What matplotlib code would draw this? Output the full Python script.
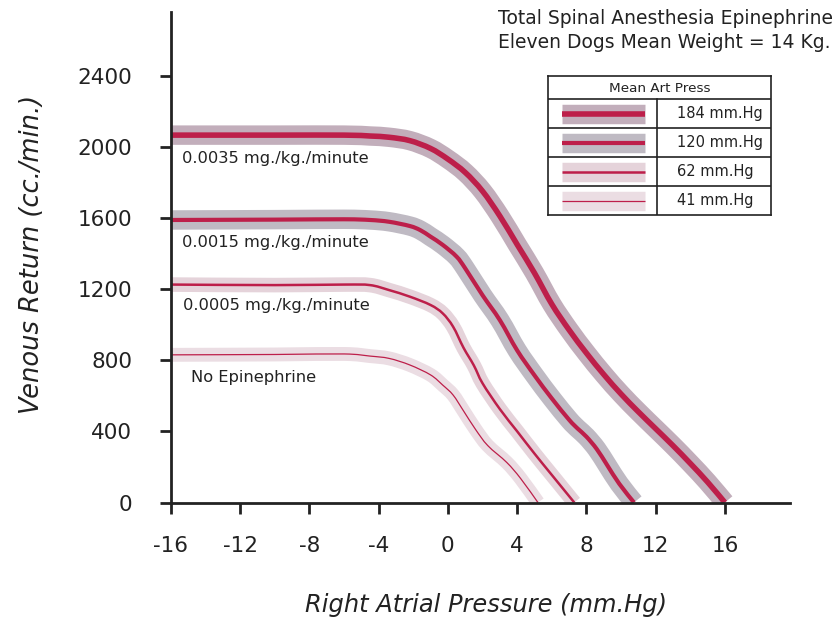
import numpy as np
import matplotlib.pyplot as plt
from matplotlib.path import Path
from matplotlib.patches import PathPatch

plt.rcParams["axes.unicode_minus"] = False

# venous return curves, one per epinephrine dose (right atrial pressure, cc./min.)
x_184 = [-16, -10, -6, -4.5, -3.4, -2.2, -1, 0, 1, 2, 3, 4, 5, 6, 7, 8, 9, 10, 11, 12, 13, 14, 15, 16]
y_184 = [2065, 2065, 2065, 2060, 2053, 2034, 1990, 1930, 1855, 1750, 1610, 1450, 1290, 1115, 970,
         840, 720, 610, 510, 415, 320, 220, 115, 0]

x_120 = [-16, -10, -6, -4.5, -3.4, -2.2, -1.6, -1, -0.3, 0.5, 1, 2, 3, 4, 5, 6, 7, 7.5, 8,
         8.6, 9.2, 9.9, 10.75]
y_120 = [1588, 1590, 1592, 1588, 1578, 1554, 1531, 1494, 1448, 1382, 1316, 1165, 1025, 855, 715,
         585, 465, 415, 370, 300, 210, 105, 0]

x_62 = [-16, -10, -6, -4.5, -3.4, -2.2, -1, -0.3, 0.3, 0.9, 1.5, 2, 3, 4, 5, 6, 7.3]
y_62 = [1225, 1222, 1225, 1222, 1194, 1157, 1110, 1063, 988, 870, 770, 670, 525, 400, 275, 155, 0]

x_41 = [-16, -10, -6, -4.5, -3.4, -2.2, -1, -0.3, 0.3, 0.9, 1.6, 2.3, 3.4, 4.2, 5.2]
y_41 = [830, 832, 835, 823, 810, 773, 717, 660, 604, 515, 410, 320, 225, 135, 0]

press_labels = ["184 mm.Hg", "120 mm.Hg", "62 mm.Hg", "41 mm.Hg"]
dose_labels = ["0.0035 mg./kg./minute", "0.0015 mg./kg./minute",
               "0.0005 mg./kg./minute", "No Epinephrine"]

x_ticks = [-16, -12, -8, -4, 0, 4, 8, 12, 16]
y_ticks = [0, 400, 800, 1200, 1600, 2000, 2400]

red = "#bd1f4a"
ink = "#222222"
band_cols = ["#c2aebb", "#bfbac3", "#e5d3da", "#ebdde3"]
band_w = [14, 14, 10.5, 10]
line_w = [4.0, 3.0, 1.8, 0.9]


def smooth_path(xs, ys):
    # Catmull-Rom through the points, written as cubic Bezier segments
    p = np.column_stack([xs, ys]).astype(float)
    verts = [p[0]]
    codes = [Path.MOVETO]
    for i in range(len(p) - 1):
        p0 = p[i - 1] if i > 0 else p[i]
        p3 = p[i + 2] if i + 2 < len(p) else p[i + 1]
        c1 = p[i] + (p[i + 1] - p0) / 6
        c2 = p[i + 1] - (p3 - p[i]) / 6
        verts += [c1, c2, p[i + 1]]
        codes += [Path.CURVE4] * 3
    return Path(verts, codes)


fig = plt.figure(figsize=(8.34, 6.19), dpi=100)
ax = fig.add_axes([0.205, 0.1882, 0.742, 0.7924])

curves = [(x_184, y_184), (x_120, y_120), (x_62, y_62), (x_41, y_41)]
for (xs, ys), bc, bw, lw in zip(curves, band_cols, band_w, line_w):
    path = smooth_path(xs, ys)
    ax.add_patch(PathPatch(path, fill=False, edgecolor=bc, lw=bw, capstyle="butt",
                           joinstyle="round"))
    ax.add_patch(PathPatch(path, fill=False, edgecolor=red, lw=lw, capstyle="butt"))

ax.text(-15.39, 1936, dose_labels[0], fontsize=11.7, va="center", color=ink)
ax.text(-15.39, 1464, dose_labels[1], fontsize=11.7, va="center", color=ink)
ax.text(-15.28, 1110, dose_labels[2], fontsize=11.7, va="center", color=ink)
ax.text(-14.87, 705, dose_labels[3], fontsize=11.7, va="center", color=ink)

ax.set_xlim(-16, 19.75)
ax.set_ylim(0, 2757)
ax.set_xticks(x_ticks)
ax.set_yticks(y_ticks)
ax.tick_params(axis="both", direction="out", length=8, width=2, color=ink,
               labelsize=15.5, labelcolor=ink)
ax.tick_params(axis="y", pad=20)
ax.tick_params(axis="x", pad=16)
for s in ["top", "right"]:
    ax.spines[s].set_visible(False)
for s in ["left", "bottom"]:
    ax.spines[s].set_linewidth(2)
    ax.spines[s].set_color(ink)

fig.text(32 / 834, 1 - 254 / 619, "Venous Return (cc./min.)", rotation=90, style="italic",
         fontsize=18.5, ha="center", va="center", color=ink)
fig.text(486 / 834, 1 - 605 / 619, "Right Atrial Pressure (mm.Hg)", style="italic",
         fontsize=17.4, ha="center", va="center", color=ink)

fig.text(498 / 834, 1 - 18 / 619, "Total Spinal Anesthesia Epinephrine", fontsize=13.5,
         va="center", color=ink)
fig.text(498 / 834, 1 - 42 / 619, "Eleven Dogs Mean Weight = 14 Kg.", fontsize=13.5,
         va="center", color=ink)

# boxed legend drawn in its own pixel-unit axes
lg = fig.add_axes([548 / 834, 1 - 215 / 619, 223 / 834, 139 / 619])
lg.set_xlim(0, 223)
lg.set_ylim(139, 0)
lg.set_xticks([])
lg.set_yticks([])
for s in lg.spines.values():
    s.set_linewidth(1.2)
    s.set_color(ink)
for yy in [23, 52, 81, 110]:
    lg.plot([0, 223], [yy, yy], color=ink, lw=1.2)
lg.plot([109, 109], [23, 139], color=ink, lw=1.2)
lg.text(111.5, 12, "Mean Art Press", fontsize=9.7, ha="center", va="center", color=ink)
for i, (lab, bc, lw) in enumerate(zip(press_labels, band_cols, line_w)):
    yc = 37.5 + 29 * i
    lg.plot([14, 97], [yc, yc], color=bc, lw=14, solid_capstyle="butt")
    lg.plot([14, 97], [yc, yc], color=red, lw=lw, solid_capstyle="butt")
    lg.text(129, yc, lab, fontsize=10.5, va="center", color=ink)

fig.savefig("out.png", dpi=100)
